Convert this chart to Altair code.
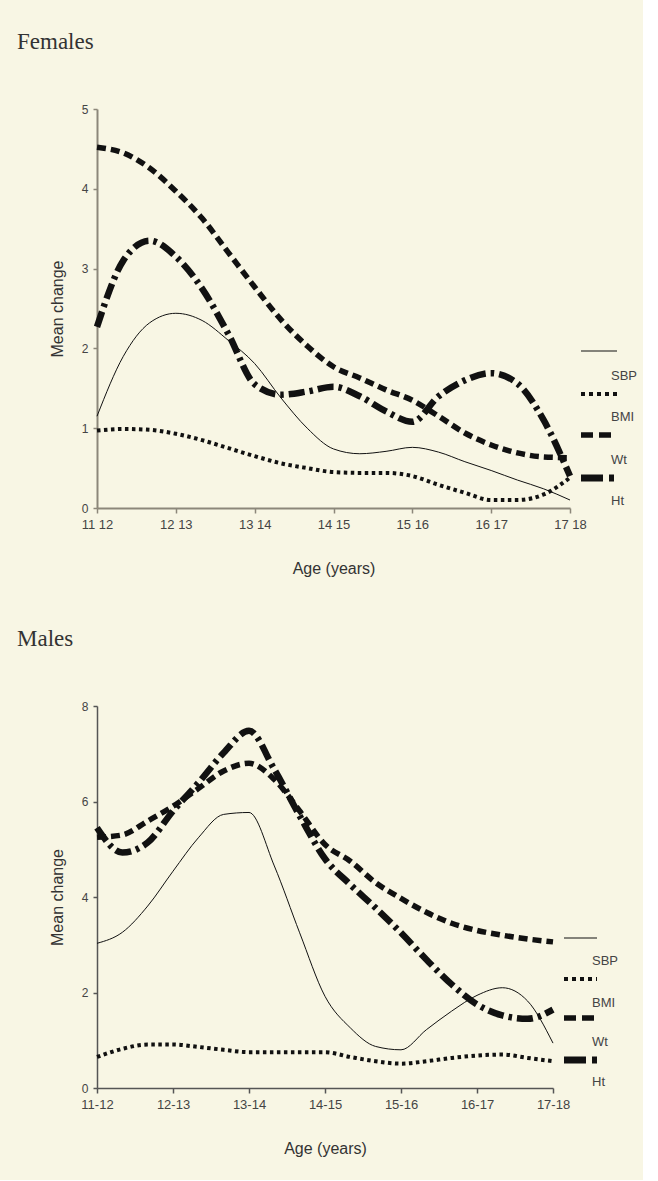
import altair as alt
import pandas as pd

# ---------------- data ----------------
SERIES = ["SBP", "BMI", "Wt", "Ht"]
STEPS = [k / 3 for k in range(19)]  # positions along the age-interval axis (0 = 11-12 ... 6 = 17-18)

F_LABELS = ["11 12", "12 13", "13 14", "14 15", "15 16", "16 17", "17 18"]
M_LABELS = ["11-12", "12-13", "13-14", "14-15", "15-16", "16-17", "17-18"]

F_SBP = [1.15, 1.90, 2.32, 2.44, 2.35, 2.10, 1.81, 1.38, 1.00, 0.74, 0.68, 0.71, 0.76, 0.70, 0.58, 0.47, 0.35, 0.24, 0.10]
F_BMI = [0.97, 0.99, 0.98, 0.93, 0.85, 0.75, 0.65, 0.56, 0.50, 0.45, 0.44, 0.44, 0.40, 0.29, 0.19, 0.10, 0.10, 0.17, 0.38]
F_WT = [4.52, 4.45, 4.26, 3.97, 3.63, 3.20, 2.77, 2.36, 2.03, 1.77, 1.63, 1.48, 1.35, 1.15, 0.94, 0.79, 0.69, 0.64, 0.63]
F_HT = [2.27, 3.10, 3.35, 3.15, 2.75, 2.18, 1.55, 1.42, 1.46, 1.52, 1.40, 1.21, 1.08, 1.40, 1.60, 1.69, 1.56, 1.10, 0.40]

M_SBP = [3.03, 3.26, 3.81, 4.54, 5.24, 5.73, 5.77, 4.65, 3.25, 1.92, 1.26, 0.87, 0.80, 1.22, 1.61, 1.94, 2.10, 1.82, 0.94]
M_BMI = [0.65, 0.82, 0.91, 0.91, 0.86, 0.80, 0.75, 0.75, 0.75, 0.75, 0.65, 0.56, 0.51, 0.56, 0.63, 0.68, 0.70, 0.63, 0.56]
M_WT = [5.25, 5.30, 5.59, 5.90, 6.27, 6.64, 6.80, 6.46, 5.80, 5.10, 4.75, 4.30, 3.97, 3.68, 3.45, 3.30, 3.20, 3.12, 3.06]
M_HT = [5.45, 4.93, 5.14, 5.80, 6.39, 7.02, 7.48, 6.67, 5.70, 4.80, 4.26, 3.77, 3.25, 2.69, 2.17, 1.75, 1.52, 1.45, 1.64]

F_YTICKS = [0, 1, 2, 3, 4, 5]
M_YTICKS = [0, 2, 4, 6, 8]

# ---------------- styles ----------------
BG = "#f8f6e4"
SANS = "Liberation Sans"
SERIF = "Liberation Serif"
DASHES = [None, [3.5, 3.5], [9, 5], [16, 5, 3.5, 5]]
WIDTHS = [1, 4, 5.5, 6.5]
LEG_DASHES = [None, [4, 4], [12, 6], [22, 6, 5, 6]]
LEG_WIDTHS = [1.2, 4, 5.5, 7]


def label_expr(labels):
    return "[" + ",".join("'" + l + "'" for l in labels) + "][datum.value]"


def panel(title, cols, labels, yticks, ymax, w, h, axcol, axw, leg):
    xax = alt.Axis(values=list(range(7)), labelExpr=label_expr(labels), title="Age (years)",
                   grid=False, domainColor=axcol, domainWidth=axw, tickColor=axcol, tickWidth=1.5,
                   tickSize=5, labelFont=SANS, labelFontSize=13, labelColor="#444", labelPadding=5,
                   labelFlush=False, titleFont=SANS, titleFontSize=16, titleFontWeight="normal",
                   titleColor="#333", titlePadding=29)
    yax = alt.Axis(values=yticks, format="d", title="Mean change", grid=False, domainColor=axcol,
                   domainWidth=axw, tickColor=axcol, tickWidth=1.5, tickSize=4, labelFont=SANS,
                   labelFontSize=12, labelColor="#444", labelPadding=5, titleFont=SANS, titleFontSize=16,
                   titleFontWeight="normal", titleColor="#333", titlePadding=16)
    layers = []
    for i, (name, vals) in enumerate(zip(SERIES, cols)):
        df = pd.DataFrame({"x": STEPS, "v": vals, "series": name})
        kw = dict(interpolate="monotone", color="#111", strokeWidth=WIDTHS[i])
        if DASHES[i] is not None:
            kw["strokeDash"] = DASHES[i]
        if i == 0:
            enc = dict(
                x=alt.X("x:Q", scale=alt.Scale(domain=[0, 6], nice=False), axis=xax),
                y=alt.Y("v:Q", scale=alt.Scale(domain=[0, ymax], nice=False), axis=yax),
                order=alt.Order("x:Q"),
            )
        else:
            enc = dict(x="x:Q", y="v:Q", order=alt.Order("x:Q"))
        layers.append(alt.Chart(df).mark_line(**kw).encode(**enc))
    one = pd.DataFrame({"k": [0]})
    lx1, lx2, line_ys, tx, text_ys = leg
    for i, name in enumerate(SERIES):
        kw = dict(color="#111", strokeWidth=LEG_WIDTHS[i])
        if LEG_DASHES[i] is not None:
            kw["strokeDash"] = LEG_DASHES[i]
        layers.append(alt.Chart(one).mark_rule(**kw).encode(
            x=alt.value(lx1), x2=alt.value(lx2), y=alt.value(line_ys[i])))
        layers.append(alt.Chart(one).mark_text(text=name, align="left", baseline="middle",
                                               font=SANS, fontSize=13, color="#444").encode(
            x=alt.value(tx), y=alt.value(text_ys[i])))
    layers.append(alt.Chart(one).mark_text(text=title, align="left", baseline="alphabetic",
                                           font=SERIF, fontSize=23, color="#333").encode(
        x=alt.value(-80), y=alt.value(-60)))
    return alt.layer(*layers).properties(width=w, height=h)


females = panel("Females", [F_SBP, F_BMI, F_WT, F_HT], F_LABELS, F_YTICKS, 5, 473, 399,
                "#8c877a", 2,
                (484, 520, [242, 285, 326, 369], 514, [267, 308, 351, 392]))
males = panel("Males", [M_SBP, M_BMI, M_WT, M_HT], M_LABELS, M_YTICKS, 8, 456, 382,
              "#555", 1.5,
              (467, 500, [232, 273, 312, 354], 495, [255, 297, 336, 376]))

chart = alt.vconcat(females, males, spacing=52).properties(
    background=BG,
    padding={"left": 17, "top": 31, "right": 5, "bottom": 24},
).configure_view(strokeOpacity=0)

chart.save("out.html", embed_options={"renderer": "svg", "actions": False})
